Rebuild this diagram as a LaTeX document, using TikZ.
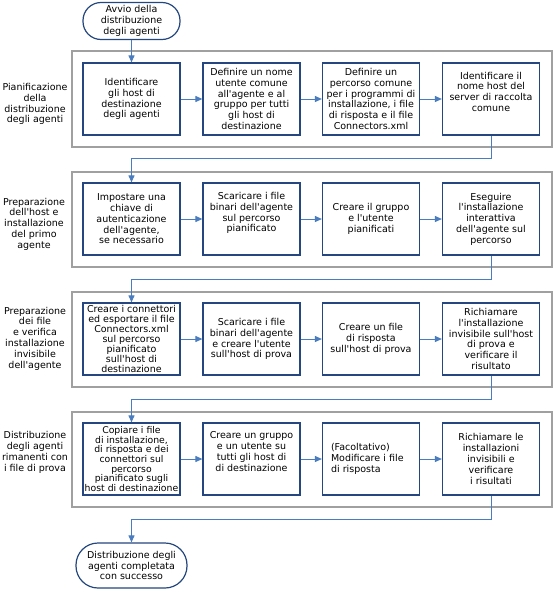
\documentclass[tikz,border=0pt]{standalone}
\usepackage{fontspec}
\setmainfont{DejaVu Sans}
\usetikzlibrary{arrows.meta}
\definecolor{boxline}{HTML}{23477E}
\definecolor{arrowc}{HTML}{4A7DBF}
\definecolor{grpline}{HTML}{A0A0A0}
\newcommand{\ap}{\textquotesingle}
\begin{document}
\begin{tikzpicture}[x=1pt,y=-1pt,
  every node/.style={font=\fontsize{9.5}{10.8}\selectfont, inner sep=0pt},
  stepbox/.style={draw=boxline, line width=1.2pt, minimum width=97pt, minimum height=72pt, align=center},
  grpbox/.style={draw=grpline, line width=1.1pt, minimum width=480pt, minimum height=95pt},
  termbox/.style={draw=boxline, line width=1.2pt, rounded corners=#1, align=center},
  lbl/.style={align=center},
  conn/.style={draw=arrowc, line width=1pt, -{Triangle[length=7pt,width=6pt]}}
]
\useasboundingbox (0,0) rectangle (557,592);

% groups
\node[grpbox, minimum height=96pt] (g1) at (312,99) {};
\node[grpbox] (g2) at (312,219.5) {};
\node[grpbox] (g3) at (312,339.5) {};
\node[grpbox] (g4) at (312,459.5) {};

% group labels
\node[lbl] (l1) at (35,104) {Pianificazione\\della\\distribuzione\\degli agenti};
\node[lbl] (l2) at (34,224) {Preparazione\\dell\ap host e\\installazione\\del primo\\agente};
\node[lbl] (l3) at (35,338.5) {Preparazione\\dei file\\e verifica\\installazione\\invisibile\\dell\ap agente};
\node[lbl] (l4) at (35,452.5) {Distribuzione\\degli agenti\\rimanenti con\\i file di prova};

% terminals
\node[termbox=18pt, minimum width=97pt, minimum height=37pt] (start) at (131.5,21) {Avvio della\\distribuzione\\degli agenti};
\node[termbox=22pt, minimum width=111pt, minimum height=45pt] (end) at (131.5,565.5) {Distribuzione degli\\agenti completata\\con successo};

% row 1
\node[stepbox] (r1c1) at (131.5,99) {Identificare\\gli host di\\destinazione\\degli agenti};
\node[stepbox] (r1c2) at (251.5,99) {Definire un nome\\utente comune\\all\ap agente e al\\gruppo per tutti\\gli host di\\destinazione};
\node[stepbox] (r1c3) at (371,99) {Definire un\\percorso comune\\per i programmi di\\installazione, i file\\di risposta e il file\\Connectors.xml};
\node[stepbox] (r1c4) at (491,99) {Identificare il\\nome host del\\server di raccolta\\comune\\[4pt]};

% row 2
\node[stepbox] (r2c1) at (131.5,219) {Impostare una\\chiave di\\autenticazione\\dell\ap agente,\\se necessario};
\node[stepbox] (r2c2) at (251.5,219) {Scaricare i file\\binari dell\ap agente\\sul percorso\\pianificato\\[3pt]};
\node[stepbox] (r2c3) at (371,219) {Creare il gruppo\\e l\ap utente\\pianificati};
\node[stepbox] (r2c4) at (491,219) {Eseguire\\l\ap installazione\\interattiva\\dell\ap agente sul\\percorso};

% row 3
\node[stepbox, font=\fontsize{9.5}{9.9}\selectfont] (r3c1) at (131.5,339) {Creare i connettori\\ed esportare il file\\Connectors.xml\\sul percorso\\pianificato\\sull\ap host di\\destinazione};
\node[stepbox] (r3c2) at (251.5,339) {Scaricare i file\\binari dell\ap agente\\e creare l\ap utente\\sull\ap host di prova};
\node[stepbox] (r3c3) at (371,339) {Creare un file\\di risposta\\sull\ap host di prova};
\node[stepbox] (r3c4) at (491,339) {Richiamare\\l\ap installazione\\invisibile sull\ap host\\di prova e\\verificare il\\risultato};

% row 4
\node[stepbox, font=\fontsize{9.3}{9.6}\selectfont] (r4c1) at (131.5,459) {Copiare i file\\di installazione,\\di risposta e dei\\connettori sul\\percorso\\pianificato sugli\\host di destinazione};
\node[stepbox] (r4c2) at (251.5,459) {Creare un gruppo\\e un utente su\\tutti gli host di\\di destinazione\\[4pt]};
\node[stepbox, align=left, text width=84pt] (r4c3) at (371,459) {\hspace*{2pt}(Facoltativo)\\\hspace*{2pt}Modificare i file\\\hspace*{2pt}di risposta};
\node[stepbox] (r4c4) at (491,459) {Richiamare le\\installazioni\\invisibili e\\verificare\\i risultati};

% connectors
\draw[conn] (start) -- (r1c1);
\draw[conn] (r1c1) -- (r1c2);
\draw[conn] (r1c2) -- (r1c3);
\draw[conn] (r1c3) -- (r1c4);
\draw[conn] (r1c4.south) -- ++(0,23) -| (r2c1.north);
\draw[conn] (r2c1) -- (r2c2);
\draw[conn] (r2c2) -- (r2c3);
\draw[conn] (r2c3) -- (r2c4);
\draw[conn] (r2c4.south) -- ++(0,24) -| (r3c1.north);
\draw[conn] (r3c1) -- (r3c2);
\draw[conn] (r3c2) -- (r3c3);
\draw[conn] (r3c3) -- (r3c4);
\draw[conn] (r3c4.south) -- ++(0,24) -| (r4c1.north);
\draw[conn] (r4c1) -- (r4c2);
\draw[conn] (r4c2) -- (r4c3);
\draw[conn] (r4c3) -- (r4c4);
\draw[conn] (r4c4.south) -- ++(0,24) -| (end.north);
\end{tikzpicture}
\end{document}
